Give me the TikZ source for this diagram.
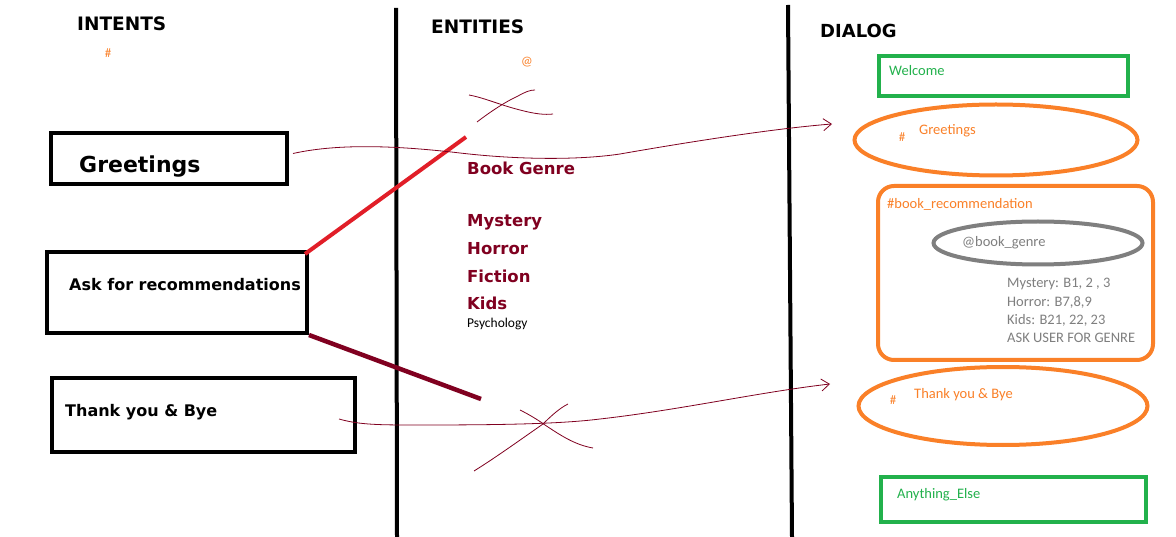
\documentclass[tikz,border=0pt]{standalone}
\usepackage{fontspec}
\setmainfont{Carlito}
\newfontfamily\comic{DejaVu Sans}
\usetikzlibrary{arrows.meta,shapes.geometric}
\definecolor{maroon}{RGB}{128,0,32}
\definecolor{ored}{RGB}{225,30,40}
\definecolor{oorange}{RGB}{250,128,40}
\definecolor{ggreen}{RGB}{34,177,76}
\definecolor{ggray}{RGB}{127,127,127}
\tikzset{
  hdr/.style={font=\comic\bfseries\fontsize{18.5}{20}\selectfont, anchor=west, inner sep=0},
  ibox/.style={draw=black, line width=4pt, inner sep=0, anchor=north west},
  itext/.style={font=\comic\bfseries\fontsize{16}{18}\selectfont, anchor=west, inner sep=0},
  ent/.style={font=\comic\bfseries\fontsize{16.5}{19}\selectfont, text=maroon, anchor=west, inner sep=0},
  dtext/.style={font=\fontsize{14.5}{16}\selectfont, anchor=west, inner sep=0},
  sketch/.style={draw=maroon, line width=0.8pt},
  sym/.style={font=\fontsize{13}{15}\selectfont, text=oorange, inner sep=0},
}
\begin{document}
\begin{tikzpicture}[x=1pt,y=-1pt]
\useasboundingbox[fill=white] (0,0) rectangle (1176,537);
% column separators
\draw[line width=4pt] (396,8) -- (397,537);
\draw[line width=4pt] (788,5) -- (792,537);
% headers
\node[hdr] (hi) at (77,24) {INTENTS};
\node[hdr] (he) at (431,27) {ENTITIES};
\node[hdr, font=\comic\bfseries\fontsize{18}{20}\selectfont] (hd) at (820,31) {DIALOG};
\node[sym] (hash) at (108,53) {\#};
\node[sym] (at) at (527,62) {@};
% intent boxes
\node[ibox, minimum width=236pt, minimum height=51pt] (gbox) at (49,131) {};
\node[itext, font=\comic\bfseries\fontsize{22}{24}\selectfont] (gtext) at (79,167) {Greetings};
\node[ibox, minimum width=260pt, minimum height=81pt] (abox) at (45,250) {};
\node[itext] (atext) at (69,285) {Ask for recommendations};
\node[ibox, minimum width=303pt, minimum height=74pt] (tbox) at (50,376) {};
\node[itext] (ttext) at (65,412) {Thank you \& Bye};
% entities
\node[ent] (bg) at (467,168) {Book Genre};
\node[ent] (my) at (467,222) {Mystery};
\node[ent] (ho) at (467,249) {Horror};
\node[ent] (fi) at (467,276) {Fiction};
\node[ent] (ki) at (467,303) {Kids};
\node[dtext, font=\fontsize{13.5}{15}\selectfont] (ps) at (467,324) {Psychology};
% dialog
\node[draw=ggreen, line width=4pt, minimum width=249pt, minimum height=40pt, anchor=north west, inner sep=0] (wel) at (877,54) {};
\node[dtext, text=ggreen] (welt) at (889,71) {Welcome};
\node[draw=oorange, line width=4pt, ellipse, minimum width=283pt, minimum height=71pt, inner sep=0] (gell) at (996,140) {};
\node[sym] (gh) at (902,137) {\#};
\node[dtext, text=oorange] (gt) at (919,131) {Greetings};
\node[draw=oorange, line width=4pt, rounded corners=16pt, minimum width=275pt, minimum height=174pt, anchor=north west, inner sep=0] (rec) at (876,184) {};
\node[dtext, text=oorange] (rect) at (887,204) {\#book\_recommendation};
\node[draw=ggray, line width=4pt, ellipse, minimum width=209pt, minimum height=43pt, inner sep=0] (bge) at (1038,243) {};
\node[dtext, text=ggray] (bget) at (962,243) {@book\_genre};
\node[dtext, text=ggray] (l1) at (1007,284) {Mystery: B1, 2 , 3};
\node[dtext, text=ggray] (l2) at (1007,302) {Horror: B7,8,9};
\node[dtext, text=ggray] (l3) at (1007,320) {Kids: B21, 22, 23};
\node[dtext, text=ggray] (l4) at (1007,338) {ASK USER FOR GENRE};
\node[draw=oorange, line width=4pt, ellipse, minimum width=289pt, minimum height=78pt, inner sep=0] (tell) at (1003,406) {};
\node[sym] (th) at (893,400) {\#};
\node[dtext, text=oorange] (tt) at (914,395) {Thank you \& Bye};
\node[draw=ggreen, line width=4pt, minimum width=265pt, minimum height=45pt, anchor=north west, inner sep=0] (any) at (879,475) {};
\node[dtext, text=ggreen] (anyt) at (897,495) {Anything\_Else};
% connectors
\coordinate (redend) at (466,137);
\coordinate (marend) at (481,399);
\draw[ored, line width=4pt] (abox.north east) ++(-4,4) -- (redend);
\draw[maroon, line width=4.5pt] (abox.south east) -- (marend);
\coordinate (gtip) at (832,124);
\coordinate (ttip) at (830,384);
\draw[sketch, -{Straight Barb[length=8pt,width=12pt]}] (gbox.east) ++(4,-5)
  .. controls (340,143) and (400,146) .. (460,153)
  .. controls (520,160) and (580,160) .. (620,154)
  .. controls (700,140) and (780,128) .. (gtip);
\draw[sketch, -{Straight Barb[length=8pt,width=12pt]}] (339,419)
  .. controls (360,425) and (380,425) .. (420,425)
  .. controls (500,425) and (560,424) .. (600,419)
  .. controls (680,410) and (760,392) .. (ttip);
% crosses
\draw[sketch] (469,95) .. controls (485,98) and (500,105) .. (520,110) .. controls (535,114) and (545,115) .. (553,114);
\draw[sketch] (477,122) .. controls (490,112) and (505,102) .. (518,96) .. controls (525,92) and (530,90) .. (535,90);
\draw[sketch] (520,410) .. controls (530,415) and (538,420) .. (545,425) .. controls (560,435) and (575,445) .. (593,448);
\draw[sketch] (474,471) .. controls (495,458) and (520,440) .. (543,424) .. controls (552,415) and (560,408) .. (568,404);
\end{tikzpicture}
\end{document}
